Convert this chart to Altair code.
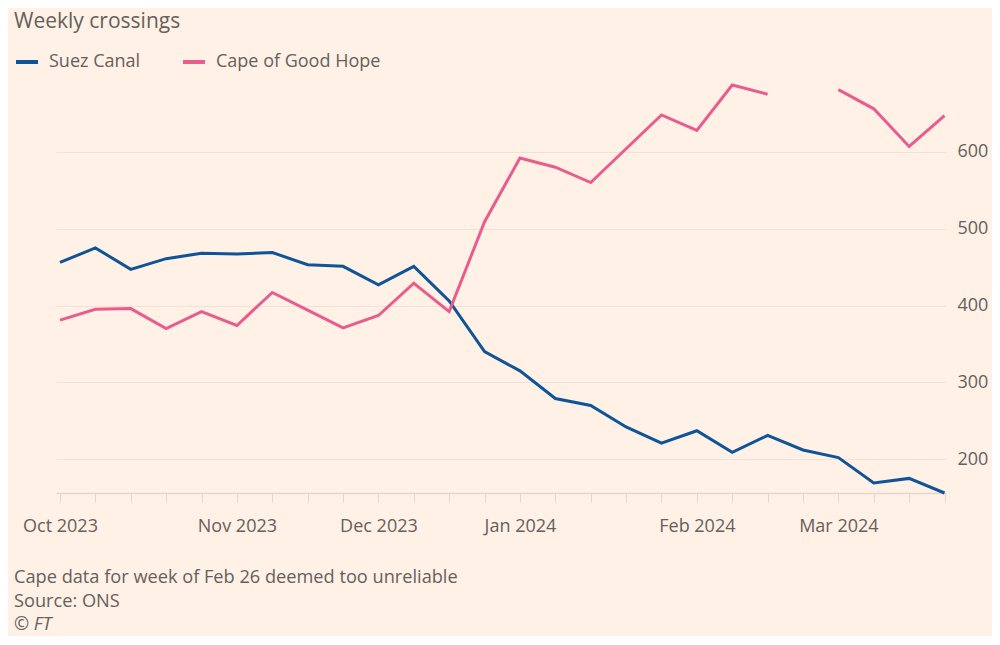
import altair as alt
import pandas as pd

weeks = [
    "2023-10-02", "2023-10-09", "2023-10-16", "2023-10-23", "2023-10-30",
    "2023-11-06", "2023-11-13", "2023-11-20", "2023-11-27", "2023-12-04",
    "2023-12-11", "2023-12-18", "2023-12-25", "2024-01-01", "2024-01-08",
    "2024-01-15", "2024-01-22", "2024-01-29", "2024-02-05", "2024-02-12",
    "2024-02-19", "2024-02-26", "2024-03-04", "2024-03-11", "2024-03-18",
    "2024-03-25",
]
suez = [456, 475, 447, 461, 468, 467, 469, 453, 451, 427, 451, 406, 340,
        315, 279, 270, 242, 221, 237, 209, 231, 212, 202, 169, 175, 156]
cape = [381, 395, 396, 370, 392, 374, 417, 394, 371, 387, 429, 392, 509,
        592, 580, 560, 604, 648, 628, 687, 675, None, 681, 656, 607, 647]
series_names = ["Suez Canal", "Cape of Good Hope"]
series_colors = ["#0F5499", "#E95D8C"]
y_ticks = [200, 300, 400, 500, 600]

title_text = "Weekly crossings"
note_text = "Cape data for week of Feb 26 deemed too unreliable"
source_text = "Source: ONS"
credit_text = "© FT"

rows = []
for name, vals in zip(series_names, [suez, cape]):
    seg = 0
    for d, v in zip(weeks, vals):
        if v is None:
            seg += 1
            continue
        rows.append({"week": d, "value": v, "series": name, "seg": f"{name}-{seg}"})
df = pd.DataFrame(rows)

tick_values = [
    alt.DateTime(year=int(w[:4]), month=int(w[5:7]), date=int(w[8:10])) for w in weeks
]

FONT = "Open Sans"
GREY = "#66605C"

lines = alt.Chart(df).mark_line(strokeWidth=3, strokeJoin="miter").encode(
    x=alt.X(
        "week:T",
        scale=alt.Scale(domain=[
            alt.DateTime(year=2023, month=10, date=1, hours=5),
            alt.DateTime(year=2024, month=3, date=25, hours=7),
        ]),
        axis=alt.Axis(
            title=None,
            values=tick_values,
            labelExpr="date(datum.value) <= 7 ? timeFormat(datum.value, '%b %Y') : ''",
            labelOverlap=False,
            labelFlush=False,
            grid=False,
            domain=True,
            domainColor="#E3D6CB",
            domainWidth=1.5,
            ticks=True,
            tickColor="#E3D6CB",
            tickSize=9,
            tickWidth=1,
            labelFont=FONT,
            labelFontSize=18,
            labelColor=GREY,
            labelPadding=15,
        ),
    ),
    y=alt.Y(
        "value:Q",
        scale=alt.Scale(domain=[156, 700], nice=False, zero=False),
        axis=alt.Axis(
            title=None,
            orient="right",
            values=y_ticks,
            grid=True,
            gridColor="#F0E2D6",
            gridWidth=1.2,
            domain=False,
            ticks=False,
            labelFont=FONT,
            labelFontSize=18,
            labelColor=GREY,
            labelPadding=11,
        ),
    ),
    color=alt.Color(
        "series:N",
        scale=alt.Scale(domain=series_names, range=series_colors),
        legend=alt.Legend(
            title=None,
            orient="none",
            legendX=-42,
            legendY=-26,
            direction="horizontal",
            symbolType="stroke",
            symbolSize=484,
            symbolStrokeWidth=4,
            labelFont=FONT,
            labelFontSize=18,
            labelColor=GREY,
            labelOffset=9,
            labelLimit=0,
            columnPadding=34,
        ),
    ),
    detail="seg:N",
)

def label(text, x, y, size=18.2, style="normal"):
    return alt.Chart(alt.Data(values=[{}])).mark_text(
        text=text, align="left", baseline="middle", font=FONT,
        fontSize=size, color=GREY, fontStyle=style,
    ).encode(x=alt.value(x), y=alt.value(y))

chart = alt.layer(
    lines,
    label(title_text, -42, -53, size=21),
    label(note_text, -42, 503),
    label(source_text, -42, 527),
    label(credit_text, -42, 550, style="italic"),
).properties(
    width=890,
    height=418,
    background="#FFF1E5",
    padding={"left": 48, "top": 67, "right": 46, "bottom": 143},
    autosize=alt.AutoSizeParams(type="none"),
).configure_view(stroke=None)

chart.save("out.html", embed_options={"renderer": "svg", "actions": False})
